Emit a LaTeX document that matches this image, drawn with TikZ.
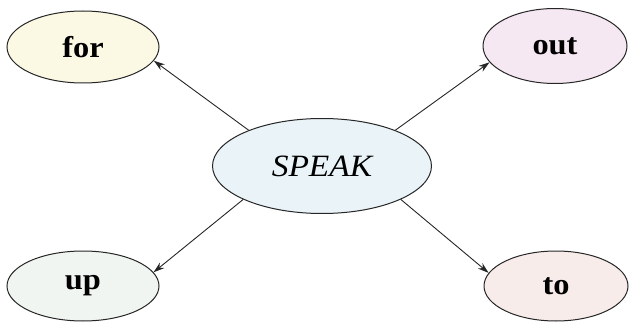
\documentclass[tikz,border=0pt]{standalone}
\usepackage{fontspec}
\setmainfont{Liberation Serif}[FakeStretch=1.08]
\usetikzlibrary{shapes.geometric,arrows.meta}
\definecolor{cfor}{HTML}{FBF8E4}
\definecolor{cout}{HTML}{F6E8F2}
\definecolor{cspeak}{HTML}{E9F3F8}
\definecolor{cup}{HTML}{F1F5F1}
\definecolor{cto}{HTML}{F8ECEA}
\tikzset{
  word/.style={ellipse,draw=black!85,line width=1pt,inner sep=0pt,
    font=\fontsize{30}{32}\selectfont\bfseries},
  small/.style={word,minimum width=152pt,minimum height=72pt},
  big/.style={word,minimum width=219pt,minimum height=95pt,
    font=\fontsize{31}{33}\selectfont\itshape},
  link/.style={-{Stealth[length=11pt,width=7pt]},line width=0.9pt,draw=black!85}
}
\begin{document}
\begin{tikzpicture}[x=1pt,y=-1pt]
\useasboundingbox (0,0) rectangle (629,323);
\node[big,fill=cspeak] (speak) at (322,166) {SPEAK};
\node[small,fill=cfor] (for) at (83,47) {for};
\node[small,fill=cout,minimum width=144pt,minimum height=75pt] (out) at (555,46) {out};
\node[small,fill=cup,minimum height=70pt] (up) at (83,286) {up};
\node[small,fill=cto,minimum width=144pt,minimum height=70pt] (to) at (556,286) {to};
\draw[link] (speak.154.9) -- (for.-11.8);
\draw[link] (speak.26.9) -- (out.-166.8);
\draw[link] (speak.203.4) -- (up.11.3);
\draw[link] (speak.-23.1) -- (to.169.3);
\end{tikzpicture}
\end{document}
